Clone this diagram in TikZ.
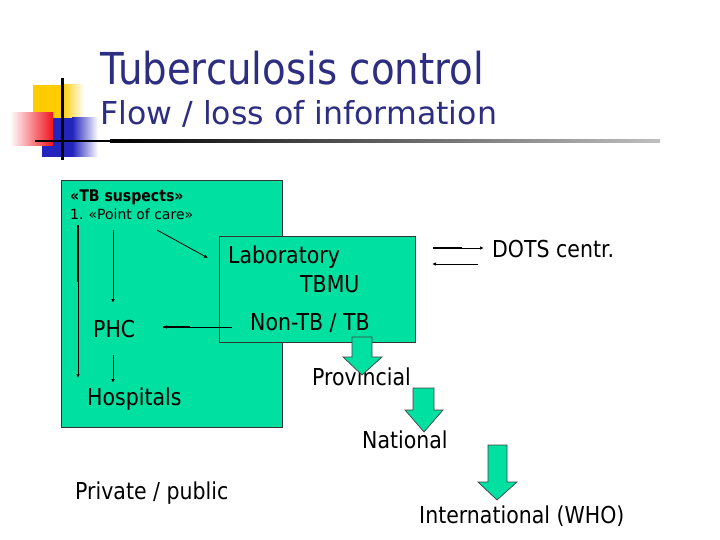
\documentclass[tikz,border=0pt]{standalone}
\usepackage{fontspec}
\setmainfont{DejaVu Sans}[FakeStretch=0.88]
\newfontfamily\verd{DejaVu Sans}
\usetikzlibrary{arrows.meta}
\definecolor{tbgreen}{RGB}{0,224,160}
\definecolor{navy}{RGB}{45,45,130}
\definecolor{decoyellow}{RGB}{255,204,0}
\definecolor{decoblue}{RGB}{35,35,190}
\definecolor{decored}{RGB}{240,20,30}
\tikzset{
  txt/.style={inner sep=0pt, anchor=base west, font=\fontsize{23.3}{26}\selectfont},
  box/.style={draw=black!80, fill=tbgreen, line width=0.8pt, inner sep=0pt},
  arr/.style={line width=0.8pt, -{Latex[length=4pt,width=3.5pt]}},
  thickln/.style={line width=1.8pt},
  blockarrow/.style={fill=tbgreen, draw=black!75, line width=0.7pt}
}
\begin{document}
\begin{tikzpicture}[x=1pt,y=-1pt]
\useasboundingbox (0,0) rectangle (720,540);
% decoration
\fill[decoyellow] (33,85) rectangle (62,118);
\shade[left color=decoyellow,right color=white] (62,85) rectangle (84,118);
\fill[decoblue] (42,118) rectangle (72,157);
\shade[left color=decoblue,right color=white] (72,118) rectangle (98,157);
\shade[left color=white,right color=decored] (10,113) rectangle (53,146);
\fill[black] (61,78) rectangle (63.5,160);
\fill[black] (35,140) rectangle (110,142.5);
\shade[left color=black,right color=white!75!black] (110,140) rectangle (660,142.5);
% titles
\node[inner sep=0pt, anchor=base west, text=navy, font=\fontsize{44}{48}\selectfont] (title) at (100,85) {Tuberculosis control};
\node[inner sep=0pt, anchor=base west, text=navy, font=\verd\fontsize{31.6}{34}\selectfont] (subtitle) at (100,125) {Flow / loss of information};
% boxes
\node[box, minimum width=221pt, minimum height=247pt, anchor=north west] (suspbox) at (61,180) {};
\node[box, minimum width=196pt, minimum height=106pt, anchor=north west] (lab) at (219,236) {};
% texts
\node[txt, font=\bfseries\fontsize{16}{18}\selectfont] (susp) at (70,202) {«TB suspects»};
\node[txt, font=\verd\fontsize{14}{16}\selectfont] (poc) at (70,220) {1.\hspace{5pt}«Point of care»};
\node[txt] (labtxt) at (228,263) {Laboratory};
\node[txt] (tbmu) at (300,292) {TBMU};
\node[txt] (nontb) at (250,330) {Non-TB / TB};
\node[txt] (phc) at (93,337) {PHC};
\node[txt] (hosp) at (87,405) {Hospitals};
\node[txt] (dots) at (492,257) {DOTS centr.};
\node[txt] (prov) at (312,385) {Provincial};
\node[txt] (nat) at (362,448) {National};
\node[txt] (intl) at (419,523) {International (WHO)};
\node[txt] (priv) at (75,499) {Private / public};
% connector end points
\coordinate (pocA) at (157,230);
\coordinate (labIn) at (208,258);
\coordinate (pocB) at (113,230);
\coordinate (phcTop) at (113,303);
\coordinate (pocC) at (78,225);
\coordinate (pocCm) at (78,282);
\coordinate (hospL) at (78,378);
\coordinate (labOut) at (232,327);
\coordinate (labOutm) at (190,327);
\coordinate (phcR) at (163,327);
\coordinate (phcBot) at (113,355);
\coordinate (hospTop) at (113,383);
\coordinate (dotsA) at (433,248);
\coordinate (dotsAm) at (462,248);
\coordinate (dotsB) at (484,248);
\coordinate (dotsC) at (478,264);
\coordinate (dotsD) at (432,264);
% connectors
\draw[arr] (pocA) -- (labIn);
\draw[arr] (pocB) -- (phcTop);
\draw[thickln] (pocC) -- (pocCm);
\draw[arr] (pocCm) -- (hospL);
\draw[arr] (labOut) -- (phcR);
\draw[thickln] (labOutm) -- (phcR);
\draw[arr] (phcBot) -- (hospTop);
\draw[arr] (dotsA) -- (dotsB);
\draw[line width=1.5pt] (dotsA) -- (dotsAm);
\draw[arr] (dotsC) -- (dotsD);
% block arrows
\draw[blockarrow] (352,337) -- (372,337) -- (372,357) -- (382,357) -- (362,375) -- (343,357) -- (352,357) -- cycle;
\draw[blockarrow] (413,388) -- (434,388) -- (434,410) -- (443,410) -- (424,432) -- (405,410) -- (413,410) -- cycle;
\draw[blockarrow] (488,445) -- (507,445) -- (507,482) -- (517,482) -- (497,500) -- (478,482) -- (488,482) -- cycle;
\end{tikzpicture}
\end{document}
